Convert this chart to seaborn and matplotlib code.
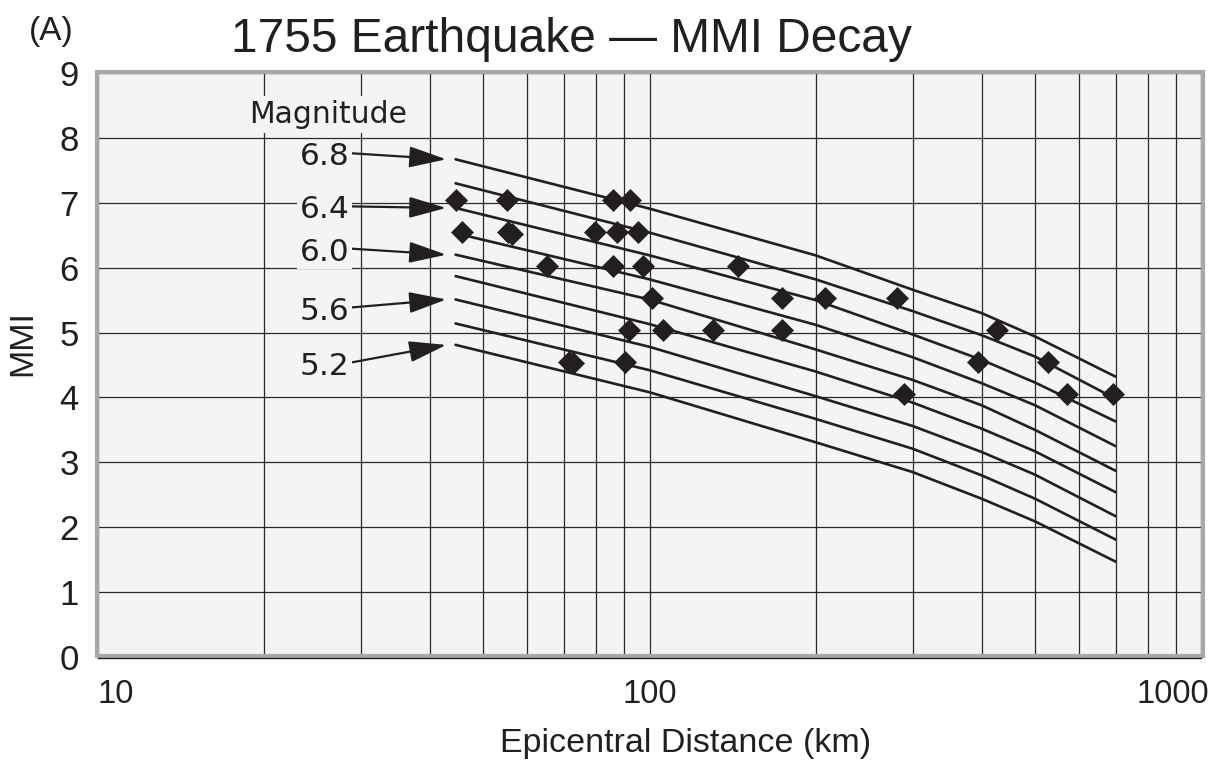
import numpy as np
import pandas as pd
import matplotlib
matplotlib.use("Agg")
import matplotlib.pyplot as plt
import matplotlib.transforms as mtransforms
import seaborn as sns
from matplotlib.ticker import LogLocator, FixedLocator, FixedFormatter, NullFormatter
from matplotlib.patches import Rectangle

# ---------------- data ----------------
magnitudes = [6.8, 6.6, 6.4, 6.2, 6.0, 5.8, 5.6, 5.4, 5.2]
curve_distance_km = [44.5, 100, 200, 300, 400, 500, 700]
mmi_m68 = [7.67, 6.91, 6.19, 5.66, 5.30, 4.94, 4.32]
mmi_m66 = [7.30, 6.54, 5.82, 5.33, 4.96, 4.63, 3.98]
mmi_m64 = [6.92, 6.19, 5.50, 4.97, 4.58, 4.23, 3.63]
mmi_m62 = [6.53, 5.82, 5.12, 4.62, 4.22, 3.88, 3.25]
mmi_m60 = [6.20, 5.51, 4.74, 4.27, 3.88, 3.50, 2.87]
mmi_m58 = [5.87, 5.13, 4.40, 3.92, 3.52, 3.17, 2.54]
mmi_m56 = [5.51, 4.78, 4.02, 3.56, 3.16, 2.81, 2.17]
mmi_m54 = [5.14, 4.42, 3.67, 3.21, 2.80, 2.44, 1.81]
mmi_m52 = [4.81, 4.08, 3.31, 2.85, 2.44, 2.09, 1.47]
curve_values = [mmi_m68, mmi_m66, mmi_m64, mmi_m62, mmi_m60,
                mmi_m58, mmi_m56, mmi_m54, mmi_m52]

obs_distance_km = [44.6, 55.2, 86.0, 92.2,
                   45.8, 55.4, 56.4, 79.6, 87.4, 95.4,
                   65.1, 86.0, 97.4, 144.9,
                   100.9, 173.7, 208.1, 280.5,
                   91.9, 105.9, 130.5, 173.7, 426.1,
                   71.6, 72.8, 90.3, 394.5, 528.6,
                   289.7, 570.9, 693.4]
obs_mmi = [7.05, 7.05, 7.05, 7.05,
           6.55, 6.55, 6.52, 6.55, 6.55, 6.55,
           6.02, 6.02, 6.02, 6.02,
           5.53, 5.53, 5.53, 5.53,
           5.04, 5.04, 5.04, 5.04, 5.04,
           4.55, 4.53, 4.55, 4.55, 4.55,
           4.05, 4.05, 4.05]

labelled_magnitudes = [6.8, 6.4, 6.0, 5.6, 5.2]
label_baseline_mmi = [7.58, 6.76, 6.11, 5.20, 4.35]

x_ticks = [10, 100, 1000]
x_tick_labels = ["10", "100", "1000"]
y_ticks = [0, 1, 2, 3, 4, 5, 6, 7, 8, 9]

# ---------------- build table ----------------
rows = []
for m, vals in zip(magnitudes, curve_values):
    for d, v in zip(curve_distance_km, vals):
        rows.append({"magnitude": m, "distance": d, "mmi": v})
curves = pd.DataFrame(rows)
obs = pd.DataFrame({"distance": obs_distance_km, "mmi": obs_mmi})

# ---------------- style ----------------
ink = "#231f20"
bg = "#f4f4f4"
frame = "#a8a8a8"
gridc = "#2a2a2a"
sns.set_style("white")
plt.rcParams["font.family"] = ["Liberation Sans", "DejaVu Sans"]

fig = plt.figure(figsize=(12.22, 7.64), dpi=100)
ax = fig.add_axes([98 / 1222, 1 - 657 / 764, 1103 / 1222, 584 / 764])
ax.set_facecolor(bg)
ax.set_xscale("log")
ax.set_xlim(10, 1000)
ax.set_ylim(0, 9)

sns.lineplot(data=curves, x="distance", y="mmi", units="magnitude",
             estimator=None, color=ink, lw=1.9, ax=ax, legend=False,
             zorder=3)
sns.scatterplot(data=obs, x="distance", y="mmi", marker="D", s=125,
                color=ink, edgecolor=ink, linewidth=0.5, ax=ax,
                legend=False, zorder=4)

# grid
ax.set_axisbelow(True)
ax.xaxis.set_major_locator(FixedLocator(x_ticks))
ax.xaxis.set_major_formatter(FixedFormatter(x_tick_labels))
ax.xaxis.set_minor_locator(LogLocator(base=10, subs=np.arange(2, 10)))
ax.xaxis.set_minor_formatter(NullFormatter())
ax.set_yticks(y_ticks)
ax.grid(which="major", axis="both", color=gridc, lw=0.9)
ax.grid(which="minor", axis="x", color=gridc, lw=0.9)
ax.tick_params(which="minor", length=0)
ax.tick_params(axis="y", which="major", direction="out", length=7,
               width=1, color=ink, labelsize=25, labelcolor=ink, pad=7)
ax.tick_params(axis="x", which="major", direction="out", length=6,
               width=1, color=ink, labelsize=23.5, labelcolor=ink, pad=9)

for s in ["top", "right", "left"]:
    ax.spines[s].set_visible(False)
ax.spines["bottom"].set_color(ink)
ax.spines["bottom"].set_linewidth(1.0)
ax.spines["bottom"].set_position(("outward", 1))
ax.spines["bottom"].set_zorder(2.6)

dx, dy = 1.5 / 1103, 1.5 / 584
ax.add_patch(Rectangle((-dx, dy), 1 + 2 * dx, 1, transform=ax.transAxes,
                       fill=False, ec=frame, lw=3, clip_on=False, zorder=2.5))

# labels
ax.set_xlabel("Epicentral Distance (km)", fontsize=24.5, color=ink)
ax.xaxis.set_label_coords((686 - 98) / 1103, (657 - 752) / 584)
ax.xaxis.label.set_va("baseline")
ax.set_ylabel("MMI", fontsize=24.5, color=ink)
ax.yaxis.set_label_coords((22.5 - 98) / 1103, (657 - 343) / 584)
ax.yaxis.label.set_va("center")

fig.text(571 / 1222, 1 - 52 / 764, "1755 Earthquake \u2014 MMI Decay",
         ha="center", va="baseline", fontsize=34.5, color=ink)
fig.text(29 / 1222, 1 - 40 / 764, "(A)", ha="left", va="baseline",
         fontsize=24, color=ink)

ax.text(26.1, 8.23, "Magnitude", ha="center", va="baseline",
        fontsize=21.5, family="DejaVu Sans", color=ink, zorder=2.7,
        bbox=dict(boxstyle="square,pad=0.12", fc=bg, ec="none"))

for m, base in zip(labelled_magnitudes, label_baseline_mmi):
    idx = magnitudes.index(m)
    start_d = curve_distance_km[0]
    start_v = curve_values[idx][0]
    ax.annotate(f"{m:.1f}", xy=(start_d * 0.962, start_v),
                xytext=(28.6, base), textcoords="data",
                ha="right", va="baseline", fontsize=22.5,
                family="DejaVu Sans", color=ink, zorder=2.7,
                bbox=dict(boxstyle="square,pad=0.08", fc=bg, ec="none"),
                arrowprops=dict(arrowstyle="-|>,head_length=1.02,head_width=0.29",
                                color=ink, lw=1.6, shrinkA=0, shrinkB=0,
                                relpos=(1.0, 0.62)))

# keep the outer tick labels inside the figure, as in the reference
fig.canvas.draw()
xt_labels = ax.get_xticklabels()
xt_labels[0].set_ha("left")
xt_labels[-1].set_ha("right")
shift = mtransforms.ScaledTranslation(8 / 100, 0, fig.dpi_scale_trans)
xt_labels[-1].set_transform(xt_labels[-1].get_transform() + shift)

fig.savefig("out.png", dpi=100, facecolor="white")
